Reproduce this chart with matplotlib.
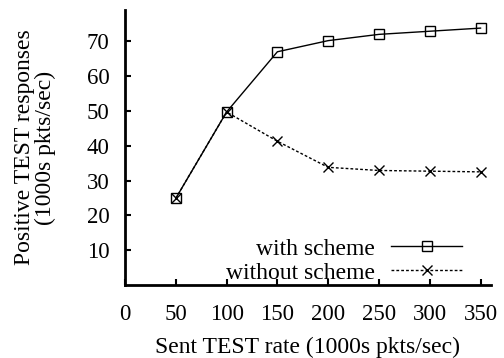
import matplotlib
matplotlib.use("Agg")
import matplotlib.pyplot as plt

rate = [50, 100, 150, 200, 250, 300, 350]
with_scheme = [24.9, 49.7, 67.0, 70.2, 72.0, 72.9, 73.8]
without_scheme = [24.9, 49.7, 41.3, 33.8, 32.9, 32.7, 32.5]
xticks = [0, 50, 100, 150, 200, 250, 300, 350]
yticks = [10, 20, 30, 40, 50, 60, 70]

plt.rcParams['font.family'] = ['Liberation Serif', 'DejaVu Serif']
plt.rcParams['font.size'] = 17

fig = plt.figure(figsize=(5.04, 3.58), dpi=100)
ax = fig.add_axes([125/504, 1-285/358, (490.7-125)/504, 275/358])

ax.plot(rate, with_scheme, color='black', lw=1.0, marker='s', ms=7,
        mfc='none', mec='black', mew=1.0, label='with scheme')
ax.plot(rate, without_scheme, color='black', lw=1.0, ls=(0, (2.0, 1.5)),
        marker='x', ms=7, mec='black', mew=1.0, label='without scheme')

ax.set_xlim(0, 360)
ax.set_ylim(0, 79)
ax.set_xticks(xticks)
ax.set_yticks(yticks)
ax.spines['top'].set_visible(False)
ax.spines['right'].set_visible(False)
for s in ['left', 'bottom']:
    ax.spines[s].set_linewidth(2.0)
ax.tick_params(direction='in', length=4, width=1.5, labelsize=16.5)
ax.tick_params(axis='y', pad=11)
ax.tick_params(axis='x', pad=14)

ax.set_xlabel('Sent TEST rate (1000s pkts/sec)', labelpad=8)
ax.set_ylabel('Positive TEST responses\n(1000s pkts/sec)', labelpad=22, linespacing=1.0)

ax.legend(loc='lower right', bbox_to_anchor=(0.9216, 0.005), frameon=False,
          markerfirst=False, borderpad=0, borderaxespad=0, handlelength=3.0,
          handletextpad=0.7, labelspacing=0.1, fontsize=17)

fig.savefig('out.png', dpi=100)
